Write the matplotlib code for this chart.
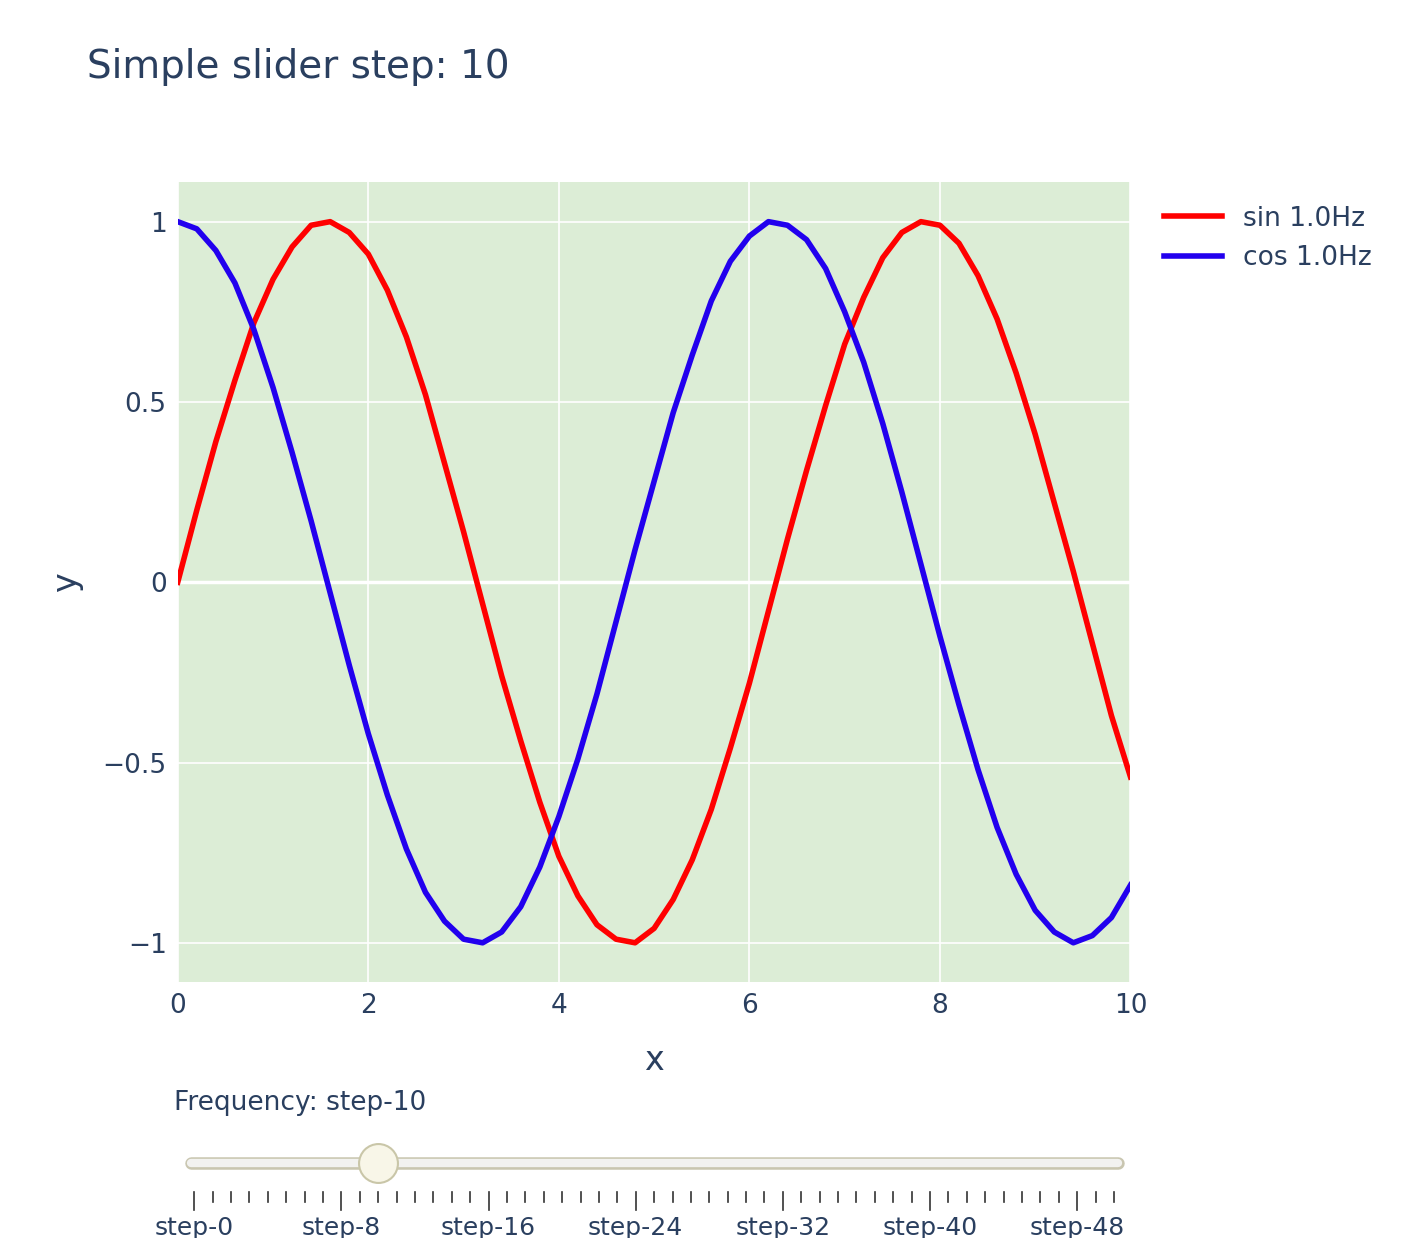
import matplotlib
matplotlib.use("Agg")
import matplotlib.pyplot as plt

x_vals = [0.0, 0.2, 0.4, 0.6, 0.8, 1.0, 1.2, 1.4, 1.6, 1.8, 2.0, 2.2, 2.4, 2.6, 2.8, 3.0,
          3.2, 3.4, 3.6, 3.8, 4.0, 4.2, 4.4, 4.6, 4.8, 5.0, 5.2, 5.4, 5.6, 5.8, 6.0, 6.2,
          6.4, 6.6, 6.8, 7.0, 7.2, 7.4, 7.6, 7.8, 8.0, 8.2, 8.4, 8.6, 8.8, 9.0, 9.2, 9.4,
          9.6, 9.8, 10.0]
sin_vals = [0.00, 0.20, 0.39, 0.56, 0.72, 0.84, 0.93, 0.99, 1.00, 0.97, 0.91, 0.81, 0.68,
            0.52, 0.33, 0.14, -0.06, -0.26, -0.44, -0.61, -0.76, -0.87, -0.95, -0.99, -1.00,
            -0.96, -0.88, -0.77, -0.63, -0.46, -0.28, -0.08, 0.12, 0.31, 0.49, 0.66, 0.79,
            0.90, 0.97, 1.00, 0.99, 0.94, 0.85, 0.73, 0.58, 0.41, 0.22, 0.03, -0.17, -0.37, -0.54]
cos_vals = [1.00, 0.98, 0.92, 0.83, 0.70, 0.54, 0.36, 0.17, -0.03, -0.23, -0.42, -0.59, -0.74,
            -0.86, -0.94, -0.99, -1.00, -0.97, -0.90, -0.79, -0.65, -0.49, -0.31, -0.11, 0.09,
            0.28, 0.47, 0.63, 0.78, 0.89, 0.96, 1.00, 0.99, 0.95, 0.87, 0.75, 0.61, 0.44, 0.25,
            0.05, -0.15, -0.34, -0.52, -0.68, -0.81, -0.91, -0.97, -1.00, -0.98, -0.93, -0.84]
series_names = ["sin 1.0Hz", "cos 1.0Hz"]
n_steps = 51
active_step = 10
label_steps = [0, 8, 16, 24, 32, 40, 48]

txt = "#2a3f5f"
fig = plt.figure(figsize=(14.22, 12.38), dpi=100)
ax = fig.add_axes([0.125, 0.207, 0.67, 0.646])
ax.set_facecolor("#dcedd6")
ax.plot(x_vals, sin_vals, color="#ff0000", lw=4, label=series_names[0])
ax.plot(x_vals, cos_vals, color="#2200ee", lw=4, label=series_names[1])
ax.set_xlim(0, 10)
ax.set_ylim(-1.108, 1.11)
ax.set_xticks([0, 2, 4, 6, 8, 10])
ax.set_yticks([-1, -0.5, 0, 0.5, 1])
ax.set_yticklabels(["\u22121", "\u22120.5", "0", "0.5", "1"])
ax.grid(color="white", lw=1.2)
ax.axhline(0, color="white", lw=2.5, zorder=1)
ax.set_axisbelow(True)
for s in ax.spines.values():
    s.set_visible(False)
ax.tick_params(length=0, labelsize=19, colors=txt, pad=8)
ax.set_xlabel("x", fontsize=24, color=txt, labelpad=18)
ax.set_ylabel("y", fontsize=24, color=txt, labelpad=14)
ax.legend(loc="upper left", bbox_to_anchor=(1.01, 1.0), frameon=False, fontsize=19,
          handlelength=2.2, labelcolor=txt)
fig.text(0.061, 0.946, "Simple slider step: 10", fontsize=28, color=txt, va="center")

# slider
sax = fig.add_axes([0.125, 0.0, 0.67, 0.115])
sax.set_xlim(-0.9, n_steps - 1 + 0.9)
sax.set_ylim(0, 1)
sax.axis("off")
sax.plot([-0.2, n_steps - 1 + 0.2], [0.53, 0.53], color="#c9c6b0", lw=9, solid_capstyle="round")
sax.plot([-0.2, n_steps - 1 + 0.2], [0.53, 0.53], color="#f2f2f0", lw=6, solid_capstyle="round")
sax.plot([active_step], [0.53], "o", ms=28, mfc="#f8f6e8", mec="#c9c6a8", mew=1.5)
for st in range(n_steps):
    h = 0.12 if st in label_steps else 0.07
    sax.plot([st, st], [0.32, 0.32 - h], color="#333333", lw=1.2)
for st in label_steps:
    sax.text(st, 0.07, "step-%d" % st, ha="center", va="center", fontsize=18, color=txt)
sax.text(-1.1, 0.95, "Frequency: step-10", fontsize=19, color=txt, va="center")

fig.savefig("out.png", dpi=100)
